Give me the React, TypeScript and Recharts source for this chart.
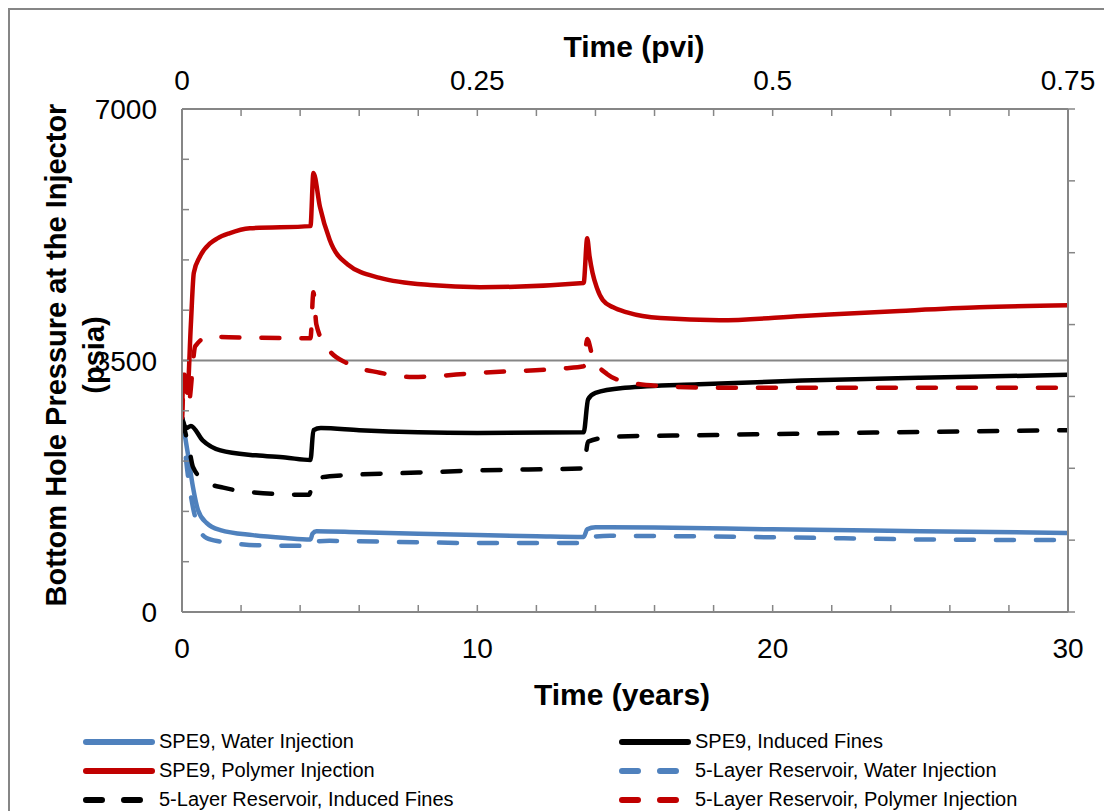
import React from 'react';
import { LineChart, Line, XAxis, YAxis, ReferenceLine } from 'recharts';

// [time in years, bottom hole pressure in psia]
type Pt = [number, number];

const spe9Water: Pt[] = [
  [0, 2700], [0.2, 2200], [0.37, 1740], [0.54, 1420], [0.83, 1240], [1.3, 1140], [2.4, 1070],
  [3.5, 1030], [4.35, 1010], [4.42, 1090], [4.55, 1125], [6, 1110], [8, 1090], [10, 1070],
  [12, 1055], [13.6, 1045], [13.72, 1150], [14, 1180], [16, 1175], [20, 1150], [25, 1125], [30, 1100],
];

const spe9Polymer: Pt[] = [
  [0, 2700], [0.05, 3300], [0.18, 3050], [0.3, 4000], [0.4, 4720], [0.6, 4940], [0.95, 5130],
  [1.2, 5200], [1.6, 5270], [2.3, 5340], [4.35, 5370], [4.45, 6110], [4.67, 5640], [5.0, 5180],
  [5.6, 4840], [6.7, 4650], [8.4, 4550], [10.1, 4520], [13.6, 4580], [13.72, 5200], [13.8, 4950],
  [13.9, 4720], [14.05, 4510], [14.25, 4340], [14.6, 4240], [15.07, 4170], [16.2, 4090],
  [18.2, 4060], [21, 4120], [24.3, 4190], [27, 4240], [30, 4270],
];

const spe9Fines: Pt[] = [
  [0, 2710], [0.15, 2560], [0.3, 2590], [0.7, 2390], [1.3, 2250], [2.5, 2180], [3.5, 2150],
  [4.35, 2115], [4.45, 2530], [4.7, 2560], [6, 2530], [8, 2500], [10, 2490], [13.6, 2500],
  [13.75, 2960], [14, 3050], [15, 3120], [17.5, 3170], [21, 3220], [25, 3260], [30, 3300],
];

const layer5Water: Pt[] = [
  [0, 2700], [0.17, 2000], [0.35, 1500], [0.6, 1140], [0.83, 1030], [1.3, 980], [1.85, 950],
  [2.5, 930], [4.35, 920], [4.45, 980], [5, 990], [8, 970], [10, 960], [13.6, 960],
  [13.75, 1040], [14.5, 1060], [20, 1040], [25, 1010], [30, 1000],
];

const layer5Fines: Pt[] = [
  [0, 2700], [0.27, 2210], [0.37, 2020], [0.85, 1800], [1.4, 1730], [2.3, 1670], [4.3, 1630],
  [4.45, 1830], [5, 1890], [8, 1940], [10, 1970], [13.6, 2000], [13.75, 2370], [14.6, 2440],
  [17.5, 2460], [24, 2500], [30, 2530],
];

const layer5Polymer: Pt[] = [
  [0, 2700], [0.1, 3300], [0.22, 2900], [0.45, 3700], [0.9, 3830], [2, 3820], [4.35, 3810],
  [4.45, 4450], [4.55, 4000], [4.9, 3690], [5.6, 3460], [6.7, 3330], [7.8, 3270], [10.1, 3330],
  [12.9, 3390], [13.6, 3420], [13.72, 3800], [13.9, 3560], [14.4, 3310], [15.07, 3200],
  [16.2, 3145], [18.2, 3120], [30, 3120],
];

// 30 years of injection corresponds to 0.75 pore volumes injected
const YEARS_TO_PVI = 0.75 / 30;

const bottomTicks = [0, 2, 4, 6, 8, 10, 12, 14, 16, 18, 20, 22, 24, 26, 28, 30];
const bottomLabels = [0, 10, 20, 30];
const topLabels = [0, 0.25, 0.5, 0.75];
const leftTicks = [0, 700, 1400, 2100, 2800, 3500, 4200, 4900, 5600, 6300, 7000];
const leftLabels = [0, 3500, 7000];
const rightTicks = [0, 1000, 2000, 3000, 4000, 5000, 6000, 7000];

const BLUE = '#4F81BD';
const RED = '#C00000';
const BLACK = '#000000';
const AXIS = '#868686';
const FONT = '"Liberation Sans", Arial, sans-serif';

const series = [
  { name: 'SPE9, Water Injection', data: spe9Water, color: BLUE, dashed: false },
  { name: 'SPE9, Induced Fines', data: spe9Fines, color: BLACK, dashed: false },
  { name: 'SPE9, Polymer Injection', data: spe9Polymer, color: RED, dashed: false },
  { name: '5-Layer Reservoir, Water Injection', data: layer5Water, color: BLUE, dashed: true },
  { name: '5-Layer Reservoir, Induced Fines', data: layer5Fines, color: BLACK, dashed: true },
  { name: '5-Layer Reservoir, Polymer Injection', data: layer5Polymer, color: RED, dashed: true },
];

const toRows = (pts: Pt[]) => pts.map(([t, p]) => ({ t, p }));

const tickText = { fontFamily: FONT, fontSize: 28, fill: '#000' };

const BottomTick = (props: any) => {
  const { x, y, payload } = props;
  const v = payload.value;
  return (
    <g>
      <line x1={x} x2={x} y1={y} y2={y - 7} stroke={AXIS} strokeWidth={1.5} />
      {bottomLabels.includes(v) && (
        <text x={x} y={y + 46} textAnchor="middle" style={tickText}>{v}</text>
      )}
    </g>
  );
};

const TopTick = (props: any) => {
  const { x, y, payload } = props;
  const pvi = Math.round(payload.value * YEARS_TO_PVI * 1000) / 1000;
  return (
    <g>
      <line x1={x} x2={x} y1={y} y2={y + 7} stroke={AXIS} strokeWidth={1.5} />
      {topLabels.includes(pvi) && (
        <text x={x} y={y - 19} textAnchor="middle" style={tickText}>{String(pvi)}</text>
      )}
    </g>
  );
};

const LeftTick = (props: any) => {
  const { x, y, payload } = props;
  const v = payload.value;
  return (
    <g>
      <line x1={x} x2={x + 7} y1={y} y2={y} stroke={AXIS} strokeWidth={1.5} />
      {leftLabels.includes(v) && (
        <text x={x - 25} y={y + 10} textAnchor="end" style={tickText}>{v}</text>
      )}
    </g>
  );
};

const RightTick = (props: any) => {
  const { x, y } = props;
  return <line x1={x} x2={x + 7} y1={y} y2={y} stroke={AXIS} strokeWidth={1.5} />;
};

const LegendItem = ({ s }: { s: (typeof series)[number] }) => (
  <div style={{ display: 'flex', alignItems: 'center', height: 29 }}>
    <svg width={74} height={10} style={{ marginRight: 3 }}>
      <line
        x1={4}
        x2={70}
        y1={5}
        y2={5}
        stroke={s.color}
        strokeWidth={6}
        strokeLinecap="round"
        strokeDasharray={s.dashed ? '16 22' : undefined}
      />
    </svg>
    <span style={{ fontFamily: FONT, fontSize: 20, color: '#000' }}>{s.name}</span>
  </div>
);

export default function App() {
  return (
    <div style={{ position: 'relative', width: 1098, height: 803 }}>
      <div
        style={{
          position: 'absolute',
          left: 0,
          top: 0,
          width: 1100,
          height: 830,
          border: `2px solid ${AXIS}`,
          boxSizing: 'border-box',
        }}
      />
      <LineChart width={1098} height={803} margin={{ top: 61, right: 18, bottom: 139, left: 114 }}>
        <XAxis
          xAxisId="bottom"
          dataKey="t"
          type="number"
          domain={[0, 30]}
          ticks={bottomTicks}
          interval={0}
          height={60}
          tickLine={false}
          tickSize={0}
          tickMargin={0}
          tick={BottomTick}
          axisLine={{ stroke: AXIS, strokeWidth: 2 }}
          allowDataOverflow
        />
        <XAxis
          xAxisId="top"
          dataKey="t"
          orientation="top"
          type="number"
          domain={[0, 30]}
          ticks={bottomTicks}
          interval={0}
          height={40}
          tickLine={false}
          tickSize={0}
          tickMargin={0}
          tick={TopTick}
          axisLine={{ stroke: AXIS, strokeWidth: 2 }}
          allowDataOverflow
        />
        <YAxis
          yAxisId="left"
          type="number"
          domain={[0, 7000]}
          ticks={leftTicks}
          interval={0}
          width={60}
          tickLine={false}
          tickSize={0}
          tickMargin={0}
          tick={LeftTick}
          axisLine={{ stroke: AXIS, strokeWidth: 2 }}
          allowDataOverflow
        />
        <YAxis
          yAxisId="right"
          orientation="right"
          type="number"
          domain={[0, 7000]}
          ticks={rightTicks}
          interval={0}
          width={20}
          tickLine={false}
          tickSize={0}
          tickMargin={0}
          tick={RightTick}
          axisLine={{ stroke: AXIS, strokeWidth: 2 }}
          allowDataOverflow
        />
        <ReferenceLine xAxisId="bottom" yAxisId="left" y={3500} stroke={AXIS} strokeWidth={2} />
        {series.map((s, i) => (
          <Line
            key={s.name}
            xAxisId={i === 0 ? 'top' : 'bottom'}
            yAxisId="left"
            data={toRows(s.data)}
            dataKey="p"
            type="monotoneX"
            dot={false}
            activeDot={false}
            stroke={s.color}
            strokeWidth={4.5}
            strokeLinecap="round"
            strokeDasharray={s.dashed ? '18 22' : undefined}
            isAnimationActive={false}
          />
        ))}
      </LineChart>
      <div
        style={{
          position: 'absolute',
          left: 626,
          top: 39,
          transform: 'translate(-50%, -50%)',
          fontFamily: FONT,
          fontSize: 30,
          fontWeight: 'bold',
          whiteSpace: 'nowrap',
        }}
      >
        Time (pvi)
      </div>
      <div
        style={{
          position: 'absolute',
          left: 614,
          top: 687,
          transform: 'translate(-50%, -50%)',
          fontFamily: FONT,
          fontSize: 30,
          fontWeight: 'bold',
          whiteSpace: 'nowrap',
        }}
      >
        Time (years)
      </div>
      <div
        style={{
          position: 'absolute',
          left: 67,
          top: 347,
          transform: 'translate(-50%, -50%) rotate(-90deg)',
          fontFamily: FONT,
          fontSize: 29,
          fontWeight: 'bold',
          whiteSpace: 'nowrap',
          textAlign: 'center',
          lineHeight: '38px',
        }}
      >
        Bottom Hole Pressure at the Injector
        <br />
        (psia)
      </div>
      <div style={{ position: 'absolute', left: 74, top: 719 }}>
        <LegendItem s={series[0]} />
        <LegendItem s={series[2]} />
        <LegendItem s={series[4]} />
      </div>
      <div style={{ position: 'absolute', left: 610, top: 719 }}>
        <LegendItem s={series[1]} />
        <LegendItem s={series[3]} />
        <LegendItem s={series[5]} />
      </div>
    </div>
  );
}
